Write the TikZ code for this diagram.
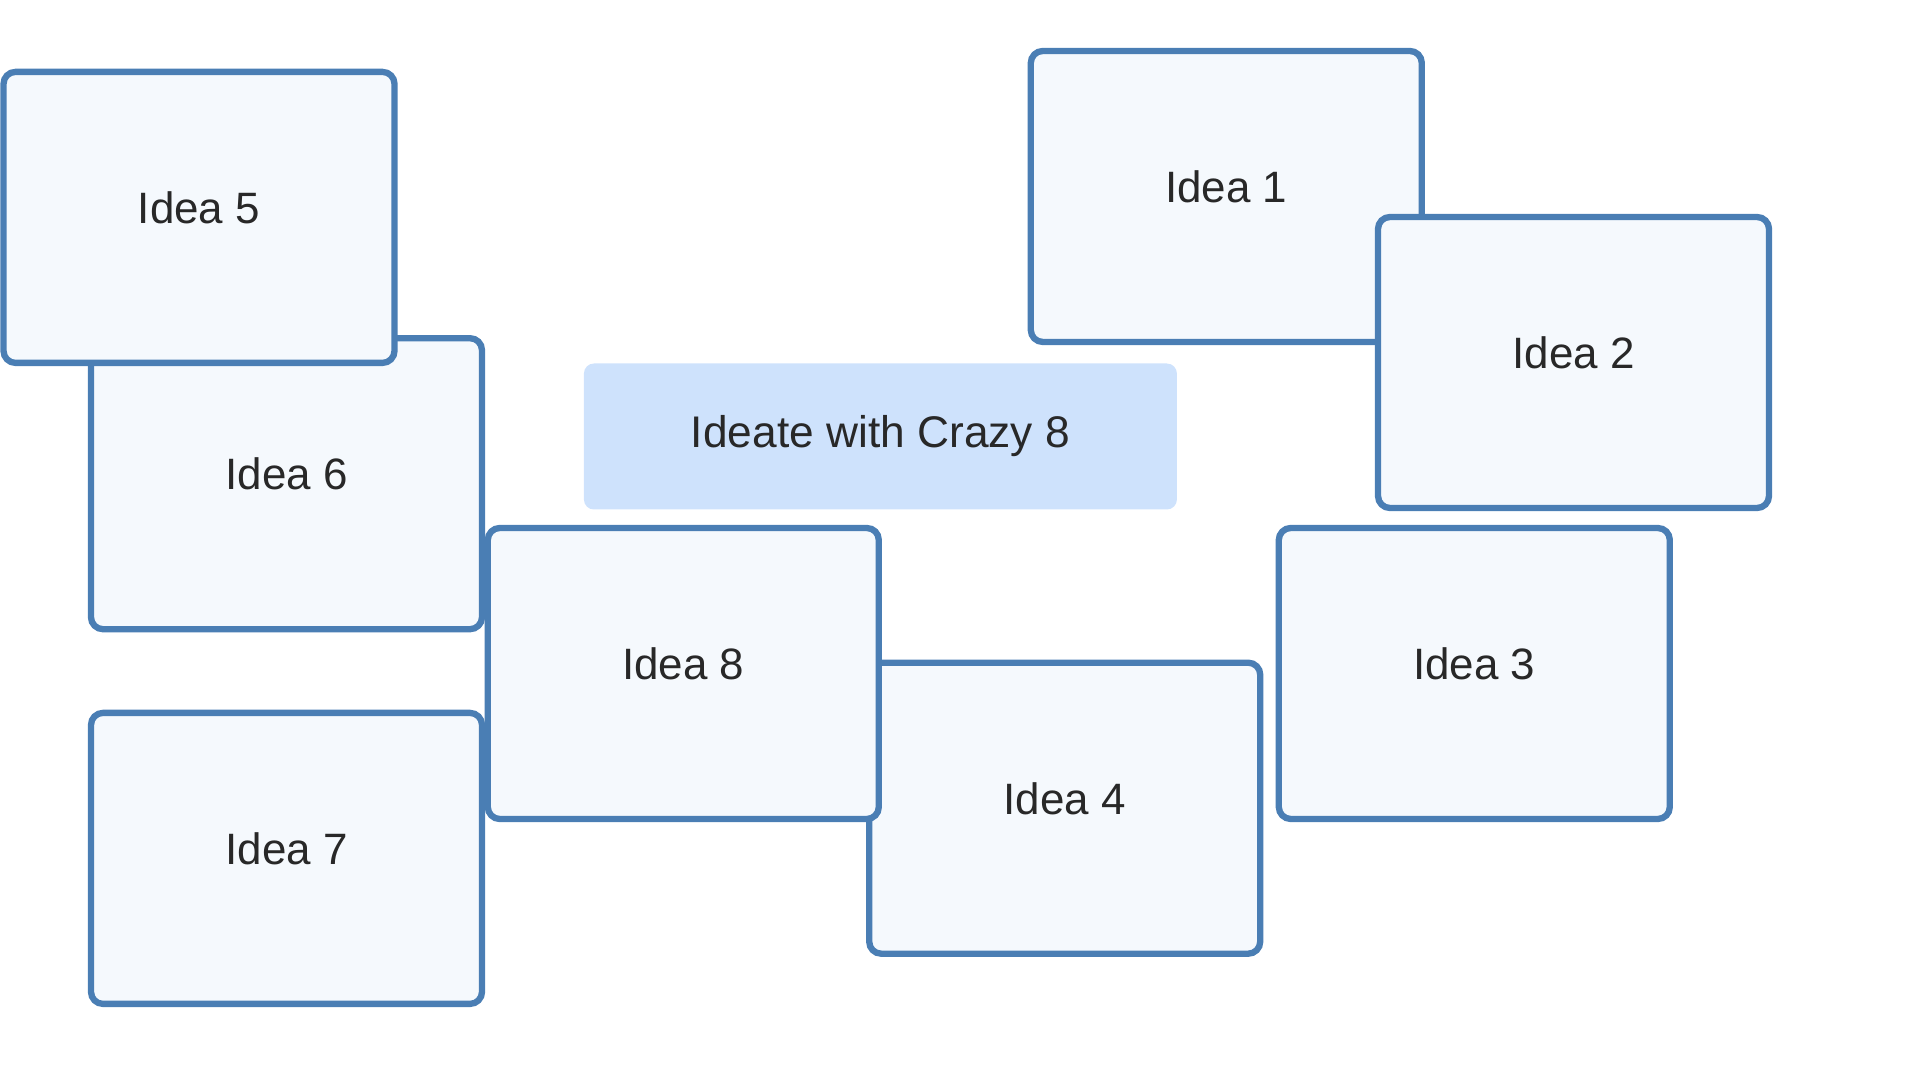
\documentclass[tikz,border=0pt]{standalone}
\usepackage{fontspec}
\setmainfont{Liberation Sans}
\definecolor{idealine}{RGB}{74,126,180}
\definecolor{ideafill}{RGB}{245,249,253}
\definecolor{titlefill}{RGB}{206,226,252}
\definecolor{ideatext}{RGB}{40,40,40}

\begin{document}
\begin{tikzpicture}[
  idea/.style={draw=idealine,fill=ideafill,line width=1.8pt,rounded corners=0.12cm,
    minimum width=3.91cm,minimum height=2.91cm,inner sep=0pt,
    text=ideatext,font=\fontsize{12.5}{15}\selectfont,text height=0.32cm,text depth=0.2cm},
  title/.style={fill=titlefill,rounded corners=0.1cm,minimum width=5.93cm,minimum height=1.46cm,
    inner sep=0pt,text=ideatext,font=\fontsize{12.6}{15}\selectfont}]
\useasboundingbox (0,0) rectangle (19.2,10.8);
% left stack
\node[idea] (idea6) at (2.865,5.963) {Idea 6};
\node[idea] (idea7) at (2.865,2.216) {Idea 7};
\node[idea] (idea4) at (10.647,2.718) {Idea 4};
\node[idea] (idea8) at (6.833,4.065) {Idea 8};
\node[idea] (idea5) at (1.99,8.626) {Idea 5};
% right stack
\node[idea] (idea1) at (12.263,8.835) {Idea 1};
\node[idea] (idea2) at (15.735,7.175) {Idea 2};
\node[idea] (idea3) at (14.743,4.065) {Idea 3};
% heading
\node[title] (crazy) at (8.804,6.435) {Ideate with Crazy 8};
\end{tikzpicture}
\end{document}
